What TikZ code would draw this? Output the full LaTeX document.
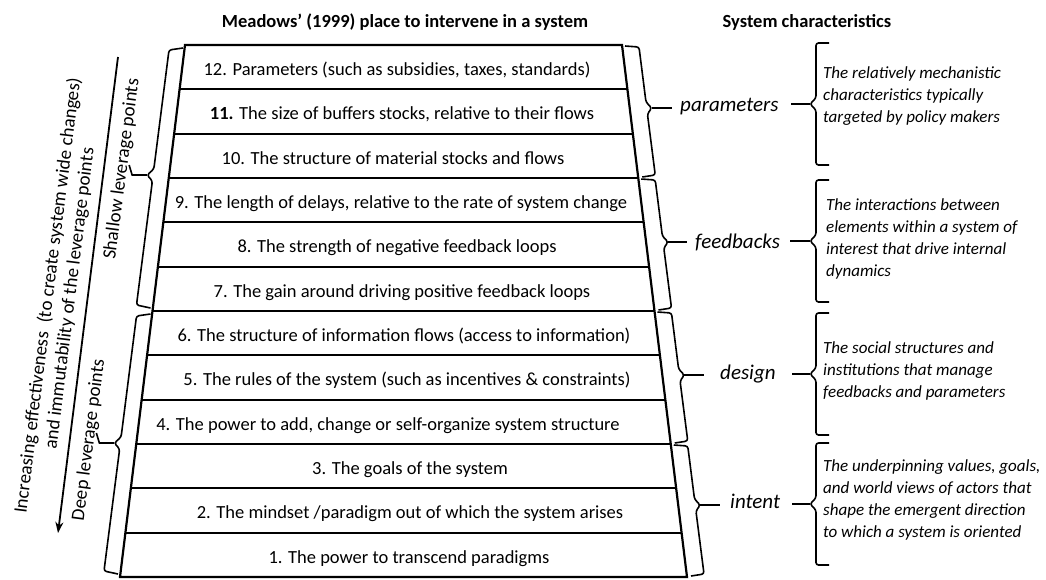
\documentclass[tikz,border=0pt]{standalone}
\usepackage{fontspec}
\setmainfont{Carlito}
\usetikzlibrary{arrows.meta,calc}

\newcommand\braceRt[4]{%
 \draw[brc] ({622+0.1222*(#1-45)+3},{#1+1}) -- ({622+0.1222*(#1-45)+17},{#1+2})
   -- ({622+0.1222*(#3-51)+17},{#3-6}) -- ({622+0.1222*(#3-45)+22},#3) coordinate (#4)
   -- ({622+0.1222*(#3-39)+17},{#3+6}) -- ({622+0.1222*(#2-45)+17},{#2-3})
   -- ({622+0.1222*(#2-45)+4},{#2-1});}
\newcommand\braceLt[4]{%
 \draw[brc] ({185-0.1222*(#1-45)-2},{#1+3}) -- ({185-0.1222*(#1-45)-16},{#1+5})
   -- ({185-0.1222*(#3-51)-16},{#3-6}) -- ({185-0.1222*(#3-45)-22},#3) coordinate (#4)
   -- ({185-0.1222*(#3-39)-16},{#3+6}) -- ({185-0.1222*(#2-45)-16},{#2-6})
   -- ({185-0.1222*(#2-45)-2},{#2-3});}
\newcommand\braceVt[4]{%
 \draw[brc] (829,#1) -- (816,#1) -- (816,{#3-6}) -- (810,#3) coordinate (#4)
   -- (816,{#3+6}) -- (816,#2) -- (829,#2);}

\begin{document}
\begin{tikzpicture}[x=1pt,y=-1pt,
  frame/.style={line width=2.2pt, line join=miter},
  brc/.style={line width=1.6pt, rounded corners=2.5pt},
  conn/.style={line width=1.6pt},
  rowtxt/.style={inner sep=0pt, font=\fontsize{18.5}{22}\selectfont, anchor=base},
  ttl/.style={inner sep=0pt, font=\fontsize{18.5}{22}\selectfont\bfseries, anchor=base},
  lbl/.style={inner sep=0pt, font=\fontsize{21}{24}\selectfont\itshape, anchor=base west},
  desc/.style={inner sep=0pt, font=\fontsize{17}{22}\selectfont\itshape, align=left, anchor=west},
  side/.style={inner sep=0pt, font=\fontsize{19}{22}\selectfont, align=center, sloped, midway}]
\useasboundingbox (0,0) rectangle (1046,579);

% titles
\node[ttl] (t1) at (405,27) {Meadows’ (1999) place to intervene in a system};
\node[ttl] (t2) at (807,27) {System characteristics};

% trapezoid
\draw[frame] (185,45) -- (622,45) -- (687,577) -- (120,577) -- cycle;
\foreach \k in {1,...,11} {
  \pgfmathsetmacro\yy{45+44.3333*\k}
  \draw[frame] ({185-0.1222*(\yy-45)},\yy) -- ({622+0.1222*(\yy-45)},\yy);
}

% row texts
\node[rowtxt] (r12) at (397,75) {12. Parameters (such as subsidies, taxes, standards)};
\node[rowtxt] (r11) at (402,119.5) {\textbf{11.} The size of buffers stocks, relative to their flows};
\node[rowtxt] (r10) at (393,164) {10. The structure of material stocks and flows};
\node[rowtxt] (r9) at (401,208) {9. The length of delays, relative to the rate of system change};
\node[rowtxt] (r8) at (397,252.5) {8. The strength of negative feedback loops};
\node[rowtxt] (r7) at (402,297) {7. The gain around driving positive feedback loops};
\node[rowtxt] (r6) at (404,341) {6. The structure of information flows (access to information)};
\node[rowtxt] (r5) at (407,385.5) {5. The rules of the system (such as incentives \& constraints)};
\node[rowtxt] (r4) at (388,430) {4. The power to add, change or self-organize system structure};
\node[rowtxt] (r3) at (410,474) {3. The goals of the system};
\node[rowtxt] (r2) at (410,518.5) {2. The mindset /paradigm out of which the system arises};
\node[rowtxt] (r1) at (409,563) {1. The power to transcend paradigms};

% right slanted braces
\braceRt{45}{178}{108}{sP}
\braceRt{178}{311}{242}{sF}
\braceRt{311}{444}{375}{sD}
\braceRt{444}{577}{505}{sI}

% labels
\node[lbl] (lP) at (680,111) {parameters};
\node[lbl] (lF) at (695,248) {feedbacks};
\node[lbl] (lD) at (720,379) {design};
\node[lbl] (lI) at (730,508) {intent};

\draw[conn, shorten >=8pt] (sP) -- (sP -| lP.west);
\draw[conn, shorten >=8pt] (sF) -- (sF -| lF.west);
\draw[conn, shorten >=16pt] (sD) -- (sD -| lD.west);
\draw[conn, shorten >=10pt] (sI) -- (sI -| lI.west);

% vertical braces
\braceVt{43}{165}{104}{vP}
\braceVt{180}{302}{241}{vF}
\braceVt{313}{435}{374}{vD}
\braceVt{443}{565}{504}{vI}

\draw[conn] (vP) -- ([xshift=12pt]vP -| lP.east);
\draw[conn] (vF) -- ([xshift=10pt]vF -| lF.east);
\draw[conn] (vD) -- ([xshift=16pt]vD -| lD.east);
\draw[conn] (vI) -- ([xshift=12pt]vI -| lI.east);

% descriptions
\node[desc] (dP) at (823,96) {The relatively mechanistic\\characteristics typically\\targeted by policy makers};
\node[desc] (dF) at (826,239) {The interactions between\\elements within a system of\\interest that drive internal\\dynamics};
\node[desc] (dD) at (823,371) {The social structures and\\institutions that manage\\feedbacks and parameters};
\node[desc] (dI) at (823,500) {The underpinning values, goals,\\and world views of actors that\\shape the emergent direction\\to which a system is oriented};

% left braces
\braceLt{45}{311}{175}{tS}
\braceLt{311}{577}{443}{tD}
\draw[conn] (tS) -- ++(-15,0) -- ++(-3,-10);
\draw[conn] (tD) -- ++(-15,0) -- ++(-3,-10);

\path (110,260) -- node[side] (sh) {Shallow leverage points} (134,78);
\path (78,525) -- node[side] (dp) {Deep leverage points} (100,355);

% arrow
\coordinate (aS) at (118,57);
\coordinate (aE) at (58,533);
\draw[line width=1.8pt, -{Stealth[length=11pt,width=8pt]}] (aS) -- (aE);
\path (30,530) -- node[side] (inc) {Increasing effectiveness~ (to create system wide changes)\\and immutability of the leverage points} (88,64);
\end{tikzpicture}
\end{document}
